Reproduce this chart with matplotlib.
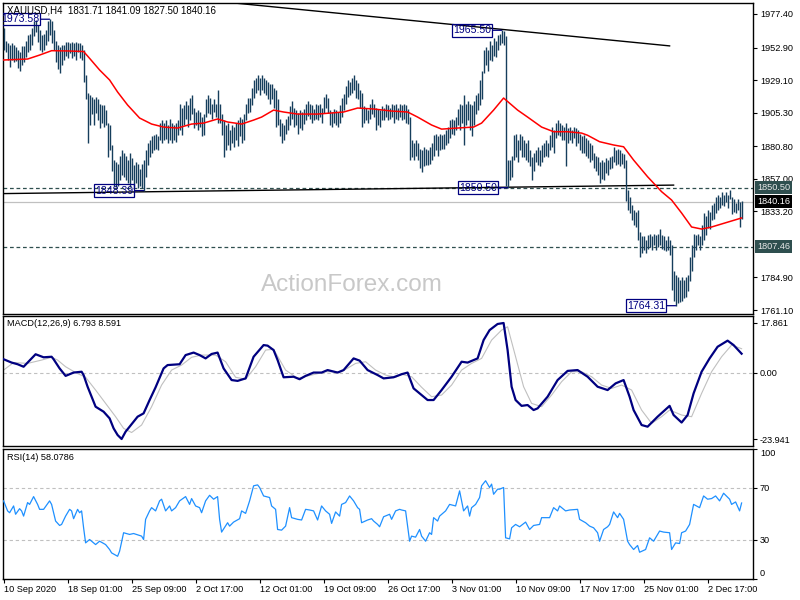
import matplotlib
matplotlib.use("Agg")
import matplotlib.pyplot as plt
from matplotlib.transforms import blended_transform_factory

plt.rcParams['font.family'] = ['Liberation Sans', 'DejaVu Sans']

title_text = "XAUUSD,H4  1831.71 1841.09 1827.50 1840.16"
macd_title = "MACD(12,26,9) 6.793 8.591"
rsi_title = "RSI(14) 58.0786"
watermark = "ActionForex.com"

highs = [
    1967, 1958, 1956, 1955, 1956, 1955, 1953, 1951, 1950, 1954,
    1954, 1958, 1962, 1963, 1967, 1972, 1973, 1969, 1966, 1962,
    1963, 1966, 1972, 1973.58, 1972, 1966, 1958, 1955, 1953, 1955,
    1955, 1957, 1957, 1956, 1957, 1956, 1957, 1956, 1956, 1955,
    1951, 1933, 1920, 1918, 1917, 1915, 1917, 1915, 1912, 1911,
    1911, 1907, 1898, 1896, 1882, 1871, 1869, 1868, 1874, 1878,
    1876, 1874, 1871, 1876, 1872, 1867, 1869, 1868, 1864, 1868,
    1871, 1878, 1883, 1885, 1888, 1889, 1890, 1888, 1898, 1900,
    1898, 1900, 1896, 1901, 1898, 1896, 1898, 1900, 1912, 1909,
    1911, 1914, 1911, 1916, 1918, 1909, 1906, 1907, 1906, 1902,
    1904, 1915, 1918, 1916, 1912, 1915, 1912, 1922, 1912, 1904,
    1900, 1896, 1898, 1893, 1896, 1895, 1898, 1900, 1902, 1901,
    1904, 1912, 1916, 1916, 1923, 1929, 1931, 1933, 1931, 1933,
    1931, 1929, 1928, 1926, 1926, 1923, 1922, 1915, 1901, 1898,
    1896, 1901, 1903, 1910, 1914, 1909, 1907, 1905, 1907, 1906,
    1908, 1912, 1914, 1912, 1911, 1908, 1912, 1911, 1912, 1909,
    1917, 1919, 1916, 1907, 1906, 1908, 1907, 1906, 1911, 1916,
    1919, 1925, 1929, 1928, 1931, 1933, 1929, 1927, 1922, 1920,
    1910, 1909, 1907, 1912, 1915, 1912, 1909, 1908, 1907, 1910,
    1909, 1912, 1911, 1909, 1912, 1911, 1912, 1909, 1912, 1911,
    1912, 1911, 1908, 1902, 1885, 1883, 1885, 1883, 1879, 1878,
    1880, 1879, 1878, 1880, 1883, 1889, 1890, 1888, 1890, 1889,
    1890, 1893, 1895, 1900, 1901, 1900, 1902, 1908, 1912, 1911,
    1918, 1912, 1914, 1912, 1911, 1914, 1918, 1920, 1929, 1936,
    1951, 1953, 1951, 1958, 1955, 1960, 1958, 1962, 1963, 1965.50,
    1965, 1961, 1871, 1871, 1874, 1889, 1890, 1885, 1890, 1888,
    1885, 1883, 1885, 1878, 1873, 1876, 1878, 1880, 1878, 1882,
    1883, 1885, 1883, 1889, 1895, 1893, 1898, 1900, 1898, 1896,
    1895, 1898, 1894, 1895, 1893, 1895, 1894, 1893, 1890, 1888,
    1889, 1887, 1885, 1883, 1882, 1876, 1874, 1873, 1869, 1871,
    1869, 1872, 1871, 1873, 1874, 1880, 1878, 1879, 1878, 1876,
    1875, 1871, 1849, 1844, 1838, 1834, 1833, 1834, 1818, 1815,
    1815, 1812, 1816, 1817, 1815, 1817, 1816, 1817, 1820, 1816,
    1815, 1812, 1815, 1812, 1809, 1790, 1787, 1785, 1783, 1785,
    1783, 1785, 1787, 1800, 1809, 1817, 1816, 1817, 1815, 1823,
    1832, 1830, 1834, 1833, 1838, 1839, 1844, 1845, 1844, 1847,
    1845, 1847, 1845, 1849, 1844, 1842, 1839, 1842, 1840, 1841.09,
]

lows = [
    1951, 1950, 1944, 1939, 1944, 1942, 1943, 1938, 1936, 1940,
    1942, 1946, 1950, 1951, 1955, 1961, 1964, 1957, 1951, 1950,
    1951, 1955, 1958, 1962, 1956, 1951, 1942, 1937, 1934, 1940,
    1944, 1947, 1945, 1949, 1945, 1947, 1944, 1950, 1945, 1944,
    1928, 1915, 1883, 1896, 1904, 1896, 1905, 1900, 1894, 1898,
    1895, 1896, 1873, 1878, 1863, 1852, 1851, 1852, 1856, 1860,
    1858, 1856, 1854, 1851, 1856, 1851, 1854, 1850, 1852, 1850,
    1848.39, 1858, 1867, 1873, 1876, 1878, 1879, 1878, 1885, 1883,
    1885, 1886, 1883, 1885, 1883, 1885, 1884, 1889, 1893, 1889,
    1896, 1901, 1895, 1900, 1904, 1894, 1896, 1893, 1895, 1888,
    1889, 1902, 1905, 1904, 1901, 1906, 1902, 1898, 1898, 1889,
    1873, 1878, 1882, 1878, 1883, 1880, 1885, 1881, 1888, 1883,
    1885, 1900, 1905, 1906, 1911, 1916, 1920, 1922, 1918, 1922,
    1920, 1918, 1915, 1912, 1915, 1909, 1895, 1896, 1888, 1883,
    1885, 1890, 1893, 1896, 1901, 1895, 1896, 1890, 1894, 1893,
    1897, 1900, 1903, 1901, 1898, 1900, 1901, 1900, 1902, 1898,
    1905, 1909, 1905, 1896, 1895, 1898, 1896, 1895, 1898, 1902,
    1907, 1912, 1917, 1918, 1920, 1922, 1916, 1915, 1909, 1895,
    1898, 1900, 1898, 1901, 1904, 1902, 1893, 1896, 1895, 1900,
    1900, 1902, 1900, 1901, 1902, 1898, 1901, 1900, 1902, 1900,
    1901, 1898, 1897, 1871, 1873, 1871, 1874, 1871, 1865, 1862,
    1866, 1867, 1867, 1868, 1871, 1874, 1878, 1874, 1878, 1879,
    1879, 1882, 1883, 1887, 1890, 1889, 1893, 1896, 1893, 1898,
    1882, 1896, 1900, 1893, 1888, 1896, 1904, 1907, 1911, 1915,
    1934, 1940, 1936, 1944, 1943, 1947, 1946, 1951, 1955, 1956,
    1955, 1852, 1850.50, 1856, 1858, 1871, 1873, 1869, 1878, 1873,
    1873, 1871, 1869, 1866, 1856, 1863, 1869, 1867, 1866, 1869,
    1873, 1874, 1873, 1878, 1880, 1876, 1887, 1889, 1888, 1885,
    1885, 1866, 1883, 1885, 1883, 1887, 1881, 1883, 1878, 1876,
    1876, 1874, 1872, 1869, 1871, 1865, 1863, 1860, 1854, 1857,
    1856, 1861, 1860, 1864, 1865, 1869, 1867, 1868, 1866, 1868,
    1865, 1841, 1834, 1832, 1827, 1823, 1822, 1812, 1800, 1803,
    1805, 1803, 1806, 1807, 1805, 1809, 1805, 1807, 1809, 1806,
    1805, 1804, 1805, 1801, 1776, 1768, 1764.31, 1766, 1767, 1768,
    1770, 1771, 1775, 1782, 1790, 1800, 1805, 1809, 1805, 1809,
    1812, 1816, 1821, 1820, 1827, 1828, 1832, 1834, 1836, 1838,
    1837, 1840, 1836, 1842, 1831, 1833, 1832, 1834, 1822, 1827.50,
]

ma_idx = [0, 12, 18, 24, 32, 40, 43, 48, 53, 57, 62, 68, 74, 80, 87, 94, 100, 107, 112, 119,
          125, 129, 135, 140, 147, 157, 164, 170, 177, 185, 194, 202, 207, 214, 219, 227, 235, 239, 245, 250,
          257, 262, 269, 275, 282, 289, 292, 298, 305, 310, 315, 322, 329, 334, 339, 344, 349, 354, 359, 364, 369]
ma_val = [1943.8, 1944.5, 1947.4, 1950.6, 1950.4, 1950.0, 1945.0, 1936.5, 1929.2, 1920.4,
          1910.9, 1901.4, 1897.0, 1894.8, 1894.1, 1897.0, 1897.7, 1900.7, 1898.5, 1897.0,
          1899.9, 1902.1, 1907.2, 1905.8, 1904.3, 1904.3, 1905.1, 1905.8, 1908.7, 1908.0,
          1906.5, 1905.8, 1902.1, 1896.3, 1893.3, 1894.1, 1894.8, 1897.7, 1907.2, 1916.0,
          1907.2, 1902.1, 1894.8, 1891.4, 1891.4, 1890.4, 1888.8, 1884.1, 1881.7, 1880.4,
          1870.7, 1858.5, 1847.6, 1841.5, 1832.0, 1821.8, 1820.3, 1821.8, 1824.0, 1826.2, 1828.4]

macd_idx = [0, 4, 7, 10, 12, 16, 20, 24, 25, 28, 31, 35, 39, 40, 42, 44, 46, 50, 53, 55,
            57, 59, 61, 65, 67, 70, 73, 76, 80, 82, 88, 91, 95, 98, 101, 104, 107, 110, 114, 117,
            121, 125, 130, 132, 135, 137, 140, 145, 148, 151, 155, 159, 162, 167, 170, 175, 178, 182, 187, 190,
            195, 199, 202, 205, 209, 212, 215, 219, 224, 229, 232, 237, 240, 243, 247, 250, 252, 254, 256, 259,
            262, 265, 267, 272, 277, 282, 287, 292, 297, 302, 306, 310, 313, 315, 319, 322, 327, 333, 335, 339,
            342, 345, 349, 353, 357, 362, 365, 369]
macd_val = [4.8, 3.6, 3.0, 2.1, 3.6, 6.6, 5.5, 5.7, 4.8, 1.5, -1.2, 0.0, 0.3, -0.9, -5.1, -8.7, -12.3, -14.1, -16.5, -20.1,
            -22.5, -23.94, -21.3, -17.7, -15.9, -14.7, -9.9, -5.3, 1.5, 2.7, 3.0, 6.3, 7.2, 6.3, 5.1, 6.7, 7.2, 1.5, -2.7, -3.0,
            -2.1, 5.7, 9.9, 9.7, 8.1, 4.5, -1.7, -1.5, -2.4, -1.2, 0.0, 0.0, 0.9, 0.0, 0.9, 5.1, 4.3, 0.9, -0.9, -2.1,
            -1.7, -0.6, 0.0, -5.7, -8.1, -9.9, -9.9, -6.3, -1.5, 3.9, 3.6, 5.1, 11.7, 15.3, 17.5, 17.86, 8.1, -5.1, -9.9, -12.0,
            -11.7, -13.5, -12.9, -8.7, -2.7, 0.6, 0.9, -1.5, -5.1, -6.3, -3.9, -2.7, -8.7, -13.5, -18.9, -19.5, -15.9, -12.0, -15.3, -18.0,
            -15.3, -7.5, 0.3, 5.1, 9.3, 11.5, 9.9, 6.793]

signal_idx = [0, 5, 12, 19, 24, 27, 31, 36, 41, 46, 51, 56, 60, 64, 69, 74, 79, 84, 89, 94,
              99, 106, 111, 116, 121, 126, 131, 135, 141, 147, 154, 161, 169, 176, 181, 186, 191, 196, 199, 204,
              209, 214, 219, 224, 229, 234, 239, 244, 249, 252, 256, 260, 264, 269, 274, 279, 284, 289, 294, 299,
              304, 309, 314, 319, 324, 329, 333, 339, 344, 349, 354, 359, 364, 369]
signal_val = [0.9, 3.6, 3.3, 4.5, 5.5, 4.5, 2.1, 0.0, -1.7, -6.3, -11.1, -15.9, -20.1, -21.6, -18.9, -12.3, -4.5, 0.9, 2.7, 5.5,
              6.3, 6.3, 3.9, -1.7, -2.4, 2.1, 8.1, 8.4, 0.9, -2.1, -0.9, 0.3, 0.3, 3.3, 3.9, 0.9, -0.9, -1.7, -0.6, -1.5,
              -5.3, -8.7, -8.1, -4.5, 0.9, 3.3, 5.1, 11.7, 15.3, 16.5, 5.7, -5.1, -11.1, -12.3, -8.1, -3.3, 0.3, 0.3, -1.5, -4.5,
              -5.7, -4.5, -6.3, -13.5, -18.3, -15.9, -13.5, -15.3, -15.9, -7.5, 0.3, 5.7, 9.9, 8.591]

rsi_idx = [0, 2, 3, 5, 6, 8, 9, 10, 12, 13, 15, 17, 18, 20, 23, 24, 26, 28, 29, 31,
           33, 34, 35, 37, 38, 39, 40, 41, 43, 46, 48, 51, 53, 54, 57, 58, 60, 63, 65, 68,
           69, 70, 71, 73, 74, 76, 78, 79, 81, 83, 84, 86, 88, 91, 93, 94, 96, 98, 99, 101,
           103, 105, 107, 108, 109, 112, 113, 115, 118, 119, 121, 123, 125, 127, 128, 130, 133, 134, 136, 137,
           139, 141, 143, 144, 147, 149, 151, 153, 155, 157, 159, 161, 163, 164, 166, 168, 169, 171, 173, 175,
           177, 178, 179, 182, 184, 185, 187, 188, 190, 193, 194, 196, 198,
           199, 201, 203, 204, 206, 208, 209, 211, 213, 214, 215, 217, 218, 221, 223, 226, 228, 230, 232, 233,
           234, 236, 238, 239, 241, 243, 244, 245, 247, 248, 250, 251, 253, 254, 256, 258, 261, 263, 265, 268,
           269, 273, 275, 277, 278, 281, 283, 287, 288, 291, 293, 295, 297, 298, 300, 302, 303, 305, 307, 308,
           310, 312, 313, 315, 317, 318, 321, 323, 325, 328, 330, 333, 334, 336, 338, 339, 341, 343, 345, 348,
           350, 352, 354, 356, 358, 360, 363, 364, 366, 368, 369]
rsi_val = [59.7, 52, 50.6, 55.8, 49.4, 53.7, 52, 48, 58.4, 57, 63, 57, 53.2, 53.2, 59.7, 57, 44.2, 40.8, 41.6, 48,
           53.2, 52, 46, 53.2, 50.6, 52, 39, 27.4, 30, 26.1, 28.7, 26.1, 22.3, 19.7, 17.1, 21, 35.2, 33.9, 34.6, 33.1,
           32.6, 30, 45.5, 52, 54.5, 52, 59.7, 61, 52, 55.8, 52, 54.5, 59.7, 63, 57, 61.5, 55.8, 54.5, 50.6, 59.7,
           64, 61, 63, 45.5, 35.7, 42.9, 40.3, 43.4, 46, 52, 50.1, 59.7, 71.3, 72, 70, 63.5, 62.3, 55.8, 53.2, 37.7,
           37.2, 40.3, 54.5, 46.8, 45.5, 45, 53.2, 52.7, 52, 45, 55.8, 52, 49.4, 42.4, 51.2, 48, 57, 58.4, 63.5, 59.7,
           54.5, 53.2, 42.9, 45, 46, 44.2, 41.6, 39.8, 47.5, 49.4, 45.5, 52, 53.2,
           52.7, 52, 28.7, 32.6, 31.8, 37.7, 32.6, 28.7, 35.2, 33.9, 46.8, 44.2, 48, 52, 57, 55.8, 67.4, 52, 55.8, 48,
           54.5, 57, 62.3, 71.3, 75.2, 70, 72.6, 64.8, 68.7, 68.7, 70, 31.3, 30.5, 39, 41.6, 39.8, 43.4, 37.7, 40.8, 41.6,
           46.8, 46.8, 54.5, 52, 55.8, 52, 52.7, 53.2, 45.5, 42.9, 40.3, 39, 35.2, 28.7, 37.7, 39.8, 41.6, 51.2, 46.8, 50.1,
           45.5, 28.7, 26.1, 22.3, 25.4, 20.2, 22.3, 31.3, 28.7, 36.5, 35.7, 35.2, 22.3, 27.4, 26.9, 35.2, 36.5, 41.6, 57, 54.5,
           63.5, 61, 61.5, 63.5, 59.7, 65.6, 61, 57, 58.9, 52, 58.0786]

price_ticks = [1977.40, 1952.90, 1929.10, 1905.30, 1880.80, 1857.00, 1833.20, 1784.90, 1761.10]
macd_ticks = [17.861, 0.0, -23.941]
rsi_ticks = [100, 70, 30, 0]
rsi_levels = [70, 30]
date_idx = [0, 32, 64, 96, 128, 160, 192, 224, 256, 288, 320, 352]
date_labels = ["10 Sep 2020", "18 Sep 01:00", "25 Sep 09:00", "2 Oct 17:00", "12 Oct 01:00",
               "19 Oct 09:00", "26 Oct 17:00", "3 Nov 01:00", "10 Nov 09:00", "17 Nov 17:00",
               "25 Nov 01:00", "2 Dec 17:00"]
dashed_levels = [1850.50, 1807.46]
last_price = 1840.16
upper_trend_idx = [110, 333]
upper_trend_val = [1986.2, 1954.1]
lower_trend_idx = [0, 335]
lower_trend_val = [1846.2, 1852.4]
swing_high_idx = [23, 249]
swing_low_idx = [70, 252, 336]

BAR_C = '#163e5c'
NAVY = '#000080'
SLATE = '#2f4f4f'
FS = 6.6

W, H = 800, 600
def rect(l, t, r, b):
    return [l / W, 1 - b / H, (r - l) / W, (b - t) / H]

fig = plt.figure(figsize=(8, 6), dpi=100)
ax1 = fig.add_axes(rect(3, 2.5, 753, 313.5))
ax2 = fig.add_axes(rect(3, 316, 753, 445.5))
ax3 = fig.add_axes(rect(3, 448.5, 753, 578.5))

for ax in (ax1, ax2, ax3):
    ax.set_xlim(-0.3, 374.7)
    ax.yaxis.tick_right()
    ax.tick_params(axis='y', direction='out', length=3, width=0.8, pad=2, labelsize=FS, colors='black')
    for s in ax.spines.values():
        s.set_linewidth(1.0)
        s.set_color('black')
for ax in (ax1, ax2):
    ax.tick_params(axis='x', bottom=False, labelbottom=False)

# ---- main price panel ----
ax1.set_ylim(1758.6, 1985.8)
ax1.text(0.4653, 0.0916, watermark, transform=ax1.transAxes, fontsize=17.5,
         color='#c8c8c8', ha='center', va='center', zorder=0)
ax1.axhline(last_price, color='#c0c0c0', lw=0.9, zorder=1)
for lv in dashed_levels:
    ax1.axhline(lv, color=SLATE, lw=0.9, ls=(0, (3, 2.2)), zorder=1)
ax1.plot(upper_trend_idx, upper_trend_val, color='black', lw=1.0, zorder=2)
ax1.plot(lower_trend_idx, lower_trend_val, color='black', lw=1.0, zorder=2)
ax1.vlines(range(len(highs)), lows, highs, color=BAR_C, lw=1.0, zorder=3)
ax1.plot(ma_idx, ma_val, color='#ff0000', lw=1.1, zorder=4)

ax1.set_yticks(price_ticks)
ax1.set_yticklabels([f"{v:.2f}" for v in price_ticks])

def swing_label(idx, price):
    ann = ax1.annotate(f"{price:.2f}", xy=(idx, price), xytext=(-7.5, 0), textcoords='offset points',
                       ha='right', va='center', fontsize=7.6, color=NAVY,
                       bbox=dict(boxstyle='square,pad=0.12', fc='none', ec=NAVY, lw=0.9),
                       arrowprops=dict(arrowstyle='-', color=NAVY, lw=0.9, shrinkA=0, shrinkB=0),
                       zorder=5, annotation_clip=False)
    ann.set_clip_on(True)
    ann.set_clip_path(ax1.patch)

for i in swing_high_idx:
    swing_label(i, highs[i])
for i in swing_low_idx:
    swing_label(i, lows[i])

tr = blended_transform_factory(ax1.transAxes, ax1.transData)
for lv in dashed_levels:
    ax1.text(1.0055, lv, f"{lv:.2f}", transform=tr, ha='left', va='center', fontsize=FS,
             color='#e8e8e8', clip_on=False, zorder=6,
             bbox=dict(boxstyle='square,pad=0.22', fc=SLATE, ec='none'))
ax1.text(1.0055, last_price, f"{last_price:.2f}", transform=tr, ha='left', va='center', fontsize=FS,
         color='white', clip_on=False, zorder=6,
         bbox=dict(boxstyle='square,pad=0.22', fc='black', ec='none'))

# ---- MACD panel ----
ax2.set_ylim(-26.28, 20.38)
ax2.axhline(0, color='#c0c0c0', lw=0.8, ls=(0, (3, 2.5)), zorder=1)
ax2.plot(signal_idx, signal_val, color='#c0c0c0', lw=0.8, zorder=2)
ax2.plot(macd_idx, macd_val, color=NAVY, lw=1.6, zorder=3)
ax2.set_yticks(macd_ticks)
ax2.set_yticklabels(["17.861", "0.00", "-23.941"])

# ---- RSI panel ----
ax3.set_ylim(0, 100)
for lv in rsi_levels:
    ax3.axhline(lv, color='#c0c0c0', lw=0.8, ls=(0, (3, 2.5)), zorder=1)
ax3.plot(rsi_idx, rsi_val, color='#1e90ff', lw=0.9, zorder=3)
ax3.set_yticks(rsi_ticks)
ax3.set_yticklabels([str(v) for v in rsi_ticks])
labs = ax3.get_yticklabels()
labs[0].set_verticalalignment('top')
labs[-1].set_verticalalignment('bottom')

ax3.set_xticks(date_idx)
ax3.set_xticklabels(date_labels)
ax3.tick_params(axis='x', direction='out', length=3, width=0.8, pad=2, labelsize=FS)
for lb in ax3.get_xticklabels():
    lb.set_horizontalalignment('left')

# ---- titles ----
fig.text(7 / W, 1 - 10.5 / H, title_text, fontsize=7.0, ha='left', va='center', color='black')
fig.text(7 / W, 1 - 323 / H, macd_title, fontsize=FS, ha='left', va='center', color='black')
fig.text(7 / W, 1 - 457 / H, rsi_title, fontsize=FS, ha='left', va='center', color='black')

fig.savefig("out.png", dpi=100, facecolor='white')
